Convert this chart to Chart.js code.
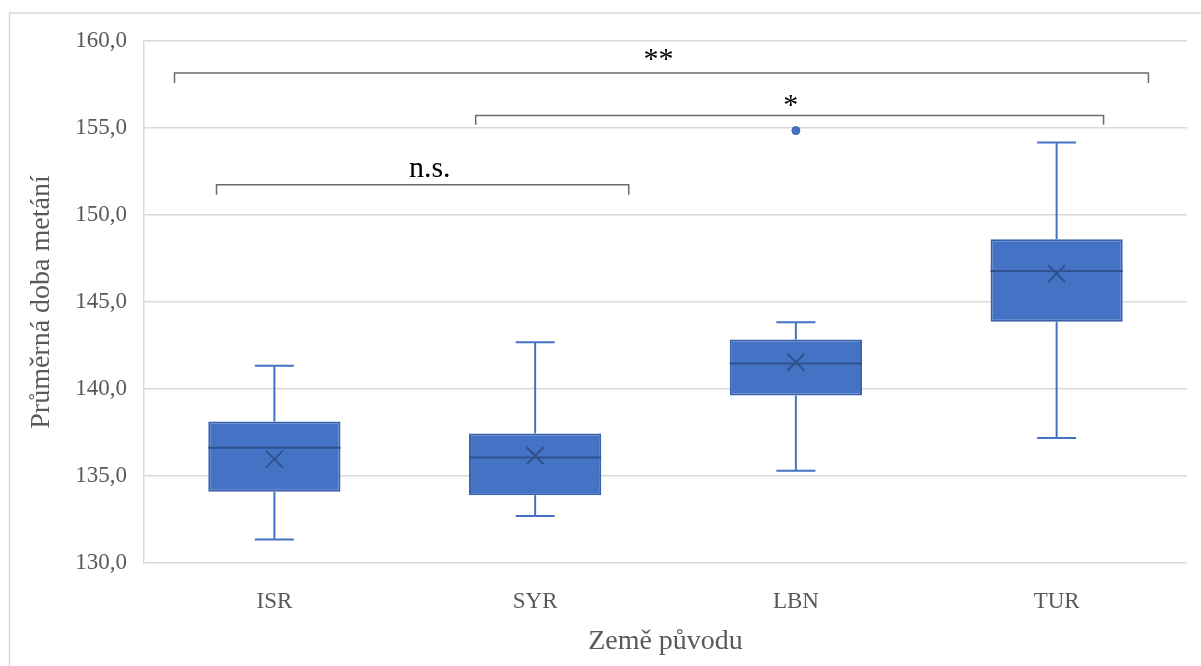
<!DOCTYPE html>
<html lang="cs">
<head>
<meta charset="UTF-8">
<title>Průměrná doba metání podle země původu</title>
<script src="https://cdn.jsdelivr.net/npm/chart.js"></script>
<style>
  html, body { margin: 0; padding: 0; background: #fff; }
  #wrap { width: 1201px; height: 666px; }
</style>
</head>
<body>
<div id="wrap"><canvas id="boxChart"></canvas></div>
<script>
const countries   = ['ISR', 'SYR', 'LBN', 'TUR'];
const whiskerLow  = [131.35, 132.70, 135.30, 137.18];
const quartile1   = [134.10, 133.89, 139.62, 143.86];
const medians     = [136.63, 136.06, 141.46, 146.78];
const quartile3   = [138.13, 137.44, 142.85, 148.61];
const whiskerHigh = [141.34, 142.69, 143.84, 154.16];
const means       = [135.97, 136.16, 141.54, 146.63];
const outliers    = [null, null, 154.85, null];

// significance brackets (x in category index units, y in axis units)
const bracketLabels = ['**', '*', 'n.s.'];
const bracketFrom   = [-0.383, 0.772, -0.222];
const bracketTo     = [3.352, 3.180, 1.359];
const bracketTop    = [158.16, 155.72, 151.74];
const bracketEnd    = [157.59, 155.19, 151.17];
const labelAt       = [1.473, 1.980, 0.596];
const labelBase     = [158.44, 155.80, 152.20];

const FONT = '"Liberation Serif", "Times New Roman", serif';
const GREY_TEXT = '#595959';
const GRID = '#d9d9d9';

const boxParts = {
  id: 'boxParts',
  beforeDraw(chart) {
    const ctx = chart.ctx;
    ctx.save();
    ctx.fillStyle = '#fff';
    ctx.fillRect(0, 0, chart.width, chart.height);
    // outer chart frame (only left and top edge visible)
    ctx.strokeStyle = GRID;
    ctx.lineWidth = 1.5;
    ctx.beginPath();
    ctx.moveTo(9.5, chart.height);
    ctx.lineTo(9.5, 13);
    ctx.lineTo(chart.width, 13);
    ctx.stroke();
    ctx.restore();
  },
  beforeDatasetsDraw(chart) {
    const ctx = chart.ctx;
    const y = chart.scales.y;
    const bars = chart.getDatasetMeta(0).data;
    ctx.save();
    ctx.strokeStyle = '#4472C4';
    ctx.lineWidth = 2;
    bars.forEach((bar, i) => {
      const x = bar.x;
      const half = 19.5;
      const hi = y.getPixelForValue(whiskerHigh[i]);
      const lo = y.getPixelForValue(whiskerLow[i]);
      const q3 = y.getPixelForValue(quartile3[i]);
      const q1 = y.getPixelForValue(quartile1[i]);
      ctx.beginPath();
      ctx.moveTo(x, q3); ctx.lineTo(x, hi);
      ctx.moveTo(x - half, hi); ctx.lineTo(x + half, hi);
      ctx.moveTo(x, q1); ctx.lineTo(x, lo);
      ctx.moveTo(x - half, lo); ctx.lineTo(x + half, lo);
      ctx.stroke();
    });
    ctx.restore();
  },
  afterDatasetDraw(chart, args) {
    if (args.index !== 0) return;
    const ctx = chart.ctx;
    const y = chart.scales.y;
    ctx.save();
    ctx.strokeStyle = '#2F528F';
    ctx.lineWidth = 2;
    chart.getDatasetMeta(0).data.forEach((bar, i) => {
      const m = y.getPixelForValue(medians[i]);
      ctx.beginPath();
      ctx.moveTo(bar.x - bar.width / 2, m);
      ctx.lineTo(bar.x + bar.width / 2, m);
      ctx.stroke();
    });
    ctx.restore();
  },
  afterDraw(chart) {
    const ctx = chart.ctx;
    const xs = chart.scales.x;
    const ys = chart.scales.y;
    ctx.save();
    bracketLabels.forEach((label, i) => {
      const x1 = xs.getPixelForValue(bracketFrom[i]);
      const x2 = xs.getPixelForValue(bracketTo[i]);
      const top = ys.getPixelForValue(bracketTop[i]);
      const end = ys.getPixelForValue(bracketEnd[i]);
      ctx.strokeStyle = '#6b6b6b';
      ctx.lineWidth = 1.5;
      ctx.beginPath();
      ctx.moveTo(x1, end);
      ctx.lineTo(x1, top);
      ctx.lineTo(x2, top);
      ctx.lineTo(x2, end);
      ctx.stroke();
      ctx.fillStyle = '#000';
      ctx.font = '30px ' + FONT;
      ctx.textAlign = 'center';
      ctx.textBaseline = 'alphabetic';
      ctx.fillText(label, xs.getPixelForValue(labelAt[i]), ys.getPixelForValue(labelBase[i]));
    });
    ctx.restore();
  }
};

new Chart(document.getElementById('boxChart'), {
  type: 'bar',
  data: {
    labels: countries,
    datasets: [
      {
        label: 'Kvartily',
        data: quartile1.map((q, i) => [q, quartile3[i]]),
        backgroundColor: '#4472C4',
        borderColor: '#3A62AC',
        borderWidth: 2,
        borderSkipped: false,
        categoryPercentage: 1,
        barPercentage: 0.507,
        order: 2
      },
      {
        type: 'line',
        label: 'Průměr',
        data: means,
        showLine: false,
        pointStyle: 'crossRot',
        pointRadius: 12,
        pointBorderWidth: 2,
        borderColor: '#2F528F',
        backgroundColor: '#2F528F',
        order: 1
      },
      {
        type: 'line',
        label: 'Odlehlé hodnoty',
        data: outliers,
        showLine: false,
        pointStyle: 'circle',
        pointRadius: 4,
        pointBorderWidth: 1,
        borderColor: '#3A62AC',
        backgroundColor: '#4472C4',
        order: 0
      }
    ]
  },
  options: {
    responsive: true,
    maintainAspectRatio: false,
    animation: false,
    layout: { padding: { top: 41, right: 3, left: 10, bottom: 0 } },
    plugins: {
      legend: { display: false },
      tooltip: { enabled: false }
    },
    scales: {
      x: {
        grid: { display: false },
        border: { display: false },
        ticks: { color: GREY_TEXT, font: { family: FONT, size: 23 }, padding: 17 },
        title: {
          display: true,
          text: 'Země původu',
          color: GREY_TEXT,
          font: { family: FONT, size: 28 },
          padding: { top: 0, bottom: 8 }
        },
        afterFit(scale) { scale.height = 103; }
      },
      y: {
        min: 130,
        max: 160,
        ticks: {
          stepSize: 5,
          color: GREY_TEXT,
          font: { family: FONT, size: 23 },
          padding: 17,
          callback: v => v.toFixed(1).replace('.', ',')
        },
        grid: { color: GRID, lineWidth: 1.5, drawTicks: false },
        border: { display: true, color: GRID, width: 1.5 },
        title: {
          display: true,
          text: 'Průměrná doba metání',
          color: GREY_TEXT,
          font: { family: FONT, size: 28 },
          padding: { top: 15, bottom: 0 }
        },
        afterFit(scale) { scale.width = 134; }
      }
    }
  },
  plugins: [boxParts]
});
</script>
</body>
</html>
